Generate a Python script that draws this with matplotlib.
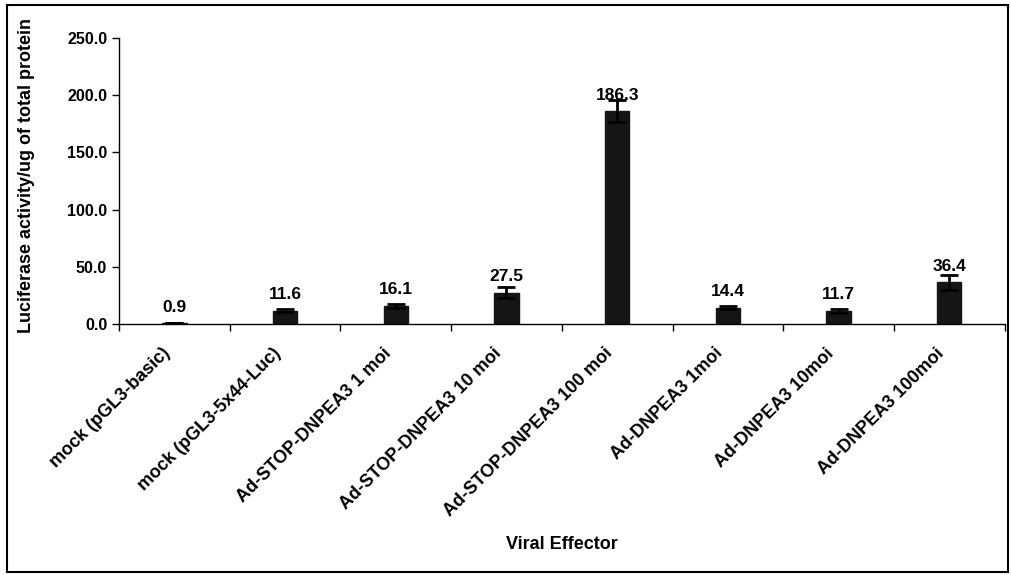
import matplotlib
matplotlib.use("Agg")
import matplotlib.pyplot as plt
from matplotlib.patches import Rectangle
import numpy as np

plt.rcParams['font.family'] = ['Liberation Sans', 'DejaVu Sans']

categories = ["mock (pGL3-basic)", "mock (pGL3-5x44-Luc)", "Ad-STOP-DNPEA3 1 moi",
              "Ad-STOP-DNPEA3 10 moi", "Ad-STOP-DNPEA3 100 moi", "Ad-DNPEA3 1moi",
              "Ad-DNPEA3 10moi", "Ad-DNPEA3 100moi"]
values = [0.9, 11.6, 16.1, 27.5, 186.3, 14.4, 11.7, 36.4]
errors = [0.3, 1.5, 1.8, 4.8, 9.6, 1.2, 1.8, 6.5]
yticks = [0, 50, 100, 150, 200, 250]

fig = plt.figure(figsize=(10.11, 5.75), dpi=100)
ax = fig.add_axes([0.1177, 0.4365, 0.876, 0.4975])

x = np.arange(len(categories))
ax.bar(x, values, width=0.22, color='#151515', edgecolor='#151515',
       yerr=errors, error_kw=dict(ecolor='black', elinewidth=2, capsize=6.5, capthick=2))

for xi, v in zip(x, values):
    ax.annotate(f"{v:.1f}", (xi, v), xytext=(0, 6), textcoords='offset points',
                ha='center', va='bottom', fontsize=12.5, fontweight='bold')

ax.set_xlim(-0.5, len(categories) - 0.5)
ax.set_ylim(0, 250)
ax.set_yticks(yticks)
ax.set_yticklabels([f"{t:.1f}" for t in yticks], fontsize=11.5, fontweight='bold')

# x ticks sit on category boundaries; labels on invisible minor ticks, nudged left
ax.set_xticks(np.arange(len(categories) + 1) - 0.5)
ax.set_xticklabels([])
ax.set_xticks(x - 0.12, minor=True)
ax.set_xticklabels(categories, minor=True, rotation=45, ha='right', va='top',
                   rotation_mode='anchor', fontsize=13, fontweight='bold')
ax.tick_params(axis='x', which='minor', length=0, pad=15)
ax.tick_params(axis='x', which='major', length=5, direction='out', width=1)
ax.tick_params(axis='y', length=5, direction='out', width=1)

ax.spines['top'].set_visible(False)
ax.spines['right'].set_visible(False)
ax.spines['left'].set_linewidth(1)
ax.spines['bottom'].set_linewidth(1)

ax.set_xlabel("Viral Effector", fontsize=13, fontweight='bold')
ax.xaxis.set_label_coords(0.5, -0.74)
fig.text(0.026, 0.421, "Luciferase activity/ug of total protein", rotation=90,
         ha='center', va='bottom', fontsize=13, fontweight='bold')

fig.patches.append(Rectangle((0.007, 0.006), 0.99, 0.985, transform=fig.transFigure,
                             fill=False, edgecolor='black', linewidth=1.5))

fig.savefig("out.png", dpi=100)
